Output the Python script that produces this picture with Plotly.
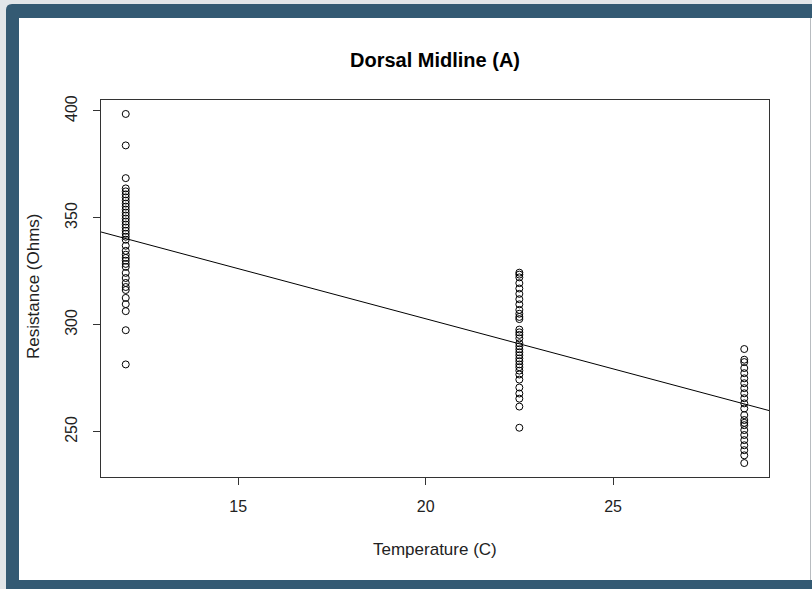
import numpy as np
import plotly.graph_objects as go

# ---- data ----
temp_levels = [12.0, 22.5, 28.5]

resist_12 = [398.6, 383.9, 368.6, 363.8, 362.4, 361.0, 359.6, 358.1, 356.7, 355.3,
             353.9, 352.5, 351.1, 349.7, 348.3, 346.9, 345.5, 344.0, 342.6, 341.2,
             339.8, 337.0, 334.6, 332.8, 331.3, 330.0, 328.5, 327.1, 324.3, 321.9,
             319.6, 317.7, 316.3, 312.6, 309.7, 306.4, 297.5, 281.5]

resist_225 = [324.4, 323.5, 322.2, 319.5, 317.0, 314.5, 312.0, 309.6, 307.0, 305.2,
              303.7, 302.7, 297.8, 296.5, 295.3, 293.7, 291.4, 290.0, 288.6, 287.2,
              285.8, 284.3, 283.0, 281.5, 280.2, 278.6, 276.8, 274.4, 270.7, 267.9,
              265.5, 261.8, 251.9]

resist_285 = [288.7, 283.7, 282.6, 279.8, 277.4, 275.0, 272.7, 270.4, 268.0, 265.7,
              263.3, 260.9, 257.8, 255.5, 254.2, 253.1, 250.8, 248.5, 246.1, 243.7,
              241.4, 239.0, 235.4]

x_ticks = [15, 20, 25]
y_ticks = [250, 300, 350, 400]

title_text = "Dorsal Midline (A)"
x_title = "Temperature (C)"
y_title = "Resistance (Ohms)"

# ---- assemble ----
x_all = ([temp_levels[0]] * len(resist_12) + [temp_levels[1]] * len(resist_225)
         + [temp_levels[2]] * len(resist_285))
y_all = resist_12 + resist_225 + resist_285

# R-style 4% range extension
xmin, xmax = min(x_all), max(x_all)
ymin, ymax = min(y_all), max(y_all)
xr = [xmin - 0.04 * (xmax - xmin), xmax + 0.04 * (xmax - xmin)]
yr = [ymin - 0.04 * (ymax - ymin), ymax + 0.04 * (ymax - ymin)]

slope, intercept = np.polyfit(x_all, y_all, 1)

W, H = 812, 589
L, R, T, B = 101, 43, 100, 112
pw, ph = W - L - R, H - T - B


def px(x):
    return (x - L) / pw


def py(y):
    return (H - B - y) / ph


fig = go.Figure()

fig.add_trace(go.Scatter(
    x=x_all, y=y_all, mode="markers",
    marker=dict(symbol="circle-open", size=7, color="black", line=dict(width=1)),
    showlegend=False, hoverinfo="x+y",
))

fig.add_trace(go.Scatter(
    x=xr, y=[intercept + slope * v for v in xr], mode="lines",
    line=dict(color="black", width=1), showlegend=False, hoverinfo="skip",
))

frame = "#345a73"
shapes = [
    dict(type="path", xref="paper", yref="paper",
         path=(f"M {px(6)},{py(600)} L {px(6)},{py(10)} Q {px(6)},{py(4)} {px(12)},{py(4)} "
               f"L {px(830)},{py(4)} L {px(830)},{py(600)} Z"),
         fillcolor=frame, line=dict(width=0), layer="below"),
    dict(type="rect", xref="paper", yref="paper", x0=px(19), x1=px(812), y0=py(18), y1=py(580),
         fillcolor="white", line=dict(width=0), layer="below"),
    dict(type="line", xref="paper", yref="paper", x0=px(810.5), x1=px(810.5), y0=py(18), y1=py(580),
         line=dict(color="#b8bcc0", width=1), layer="below"),
]

fig.update_layout(
    width=W, height=H,
    margin=dict(l=L, r=R, t=T, b=B),
    paper_bgcolor="#e2e6e9",
    plot_bgcolor="white",
    font=dict(family="Liberation Sans, Arial, sans-serif", size=16, color="#222"),
    shapes=shapes,
    xaxis=dict(range=xr, tickvals=x_ticks, ticks="outside", ticklen=7, tickcolor="#333",
               showline=True, linecolor="#333", linewidth=1, mirror=True, showgrid=False,
               zeroline=False, tickfont=dict(size=16), ticklabelstandoff=8),
    yaxis=dict(range=yr, tickvals=y_ticks, ticks="outside", ticklen=7, tickcolor="#333",
               showline=True, linecolor="#333", linewidth=1, mirror=True, showgrid=False,
               zeroline=False, tickangle=-90, tickfont=dict(size=16), ticklabelstandoff=10),
    annotations=[
        dict(text="<b>" + title_text + "</b>", xref="paper", yref="paper", x=0.5, y=py(60),
             xanchor="center", yanchor="middle", showarrow=False,
             font=dict(size=20, color="black")),
        dict(text=x_title, xref="paper", yref="paper", x=0.5, y=py(549),
             xanchor="center", yanchor="middle", showarrow=False, font=dict(size=17)),
        dict(text=y_title, xref="paper", yref="paper", x=px(33), y=py(287),
             xanchor="center", yanchor="middle", showarrow=False, textangle=-90,
             font=dict(size=17)),
    ],
)

fig.write_html(
    "out.html",
    config={"displayModeBar": False},
    post_script="document.body.style.margin='0';document.body.style.background='#e2e6e9';",
)
